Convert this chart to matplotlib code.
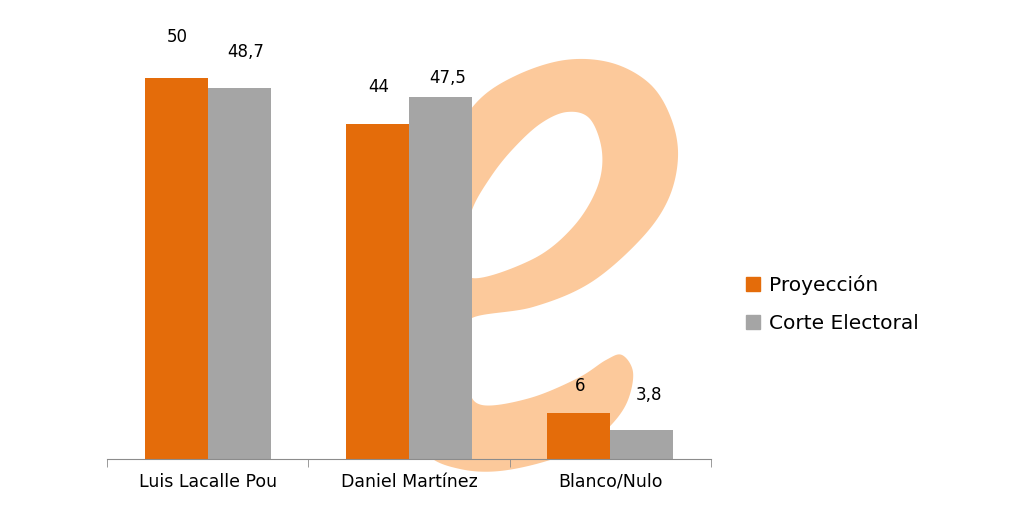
import matplotlib
matplotlib.use("Agg")
import matplotlib.pyplot as plt
from matplotlib.patches import Polygon, Patch
import numpy as np

categories = ["Luis Lacalle Pou", "Daniel Martínez", "Blanco/Nulo"]
proyeccion = [50, 44, 6]
corte = [48.7, 47.5, 3.8]
proy_labels = ["50", "44", "6"]
corte_labels = ["48,7", "47,5", "3,8"]
series_names = ["Proyección", "Corte Electoral"]

ORANGE = "#E46C0A"
GRAY = "#A5A5A5"
PEACH = "#FCC99B"

plt.rcParams["font.family"] = ["DejaVu Sans"]

W, H = 1024, 512
fig = plt.figure(figsize=(W / 100, H / 100), dpi=100)


def smooth_closed(pts, n=20):
    # catmull-rom through outline points, only for the decorative watermark
    p = np.array(pts, dtype=float)
    out = []
    k = len(p)
    for i in range(k):
        p0, p1, p2, p3 = p[i - 1], p[i], p[(i + 1) % k], p[(i + 2) % k]
        for t in np.linspace(0, 1, n, endpoint=False):
            t2, t3 = t * t, t * t * t
            out.append(0.5 * (2 * p1 + (-p0 + p2) * t + (2 * p0 - 5 * p1 + 4 * p2 - p3) * t2
                              + (-p0 + 3 * p1 - 3 * p2 + p3) * t3))
    return np.array(out)


# watermark "e" outline in pixel coordinates behind the chart
outer = [(622, 355), (633, 372), (628, 400), (613, 423), (590, 442), (550, 460), (500, 471),
         (460, 469), (428, 455), (414, 420), (410, 360), (413, 300), (425, 220), (448, 150),
         (476, 103), (515, 76), (565, 60), (612, 63), (650, 84), (671, 118), (678, 157),
         (668, 200), (640, 240), (590, 283), (533, 307), (472, 318), (466, 340),
         (468, 385), (482, 405), (530, 398), (578, 378), (606, 360)]
hole = [(472, 210), (490, 178), (512, 150), (540, 124), (567, 112), (590, 119), (602, 152),
        (597, 188), (573, 227), (533, 259), (472, 278), (466, 245)]

bg = fig.add_axes([0, 0, 1, 1], zorder=0)
bg.set_xlim(0, W)
bg.set_ylim(H, 0)
bg.axis("off")
bg.add_patch(Polygon(smooth_closed(outer), closed=True, facecolor=PEACH, edgecolor="none"))
bg.add_patch(Polygon(smooth_closed(hole), closed=True, facecolor="white", edgecolor="none"))

ax = fig.add_axes([107 / W, (H - 459) / H, (711 - 107) / W, (459 - 20) / H], zorder=1)
ax.patch.set_alpha(0)
x = np.arange(len(categories))
bw = 0.313
ax.bar(x - bw / 2, proyeccion, bw, color=ORANGE)
ax.bar(x + bw / 2, corte, bw, color=GRAY)
ax.set_xlim(-0.5, 2.5)
ax.set_ylim(0, 439 / 7.62)

off1 = [41, 37, 27]
off2 = [36, 19, 35]
for i in range(len(categories)):
    ax.annotate(proy_labels[i], (x[i] - bw / 2, proyeccion[i]), xytext=(1, off1[i] * 0.72),
                textcoords="offset points", ha="center", va="center", fontsize=12)
    ax.annotate(corte_labels[i], (x[i] + bw / 2, corte[i]), xytext=(5, off2[i] * 0.72),
                textcoords="offset points", ha="center", va="center", fontsize=12)

for s in ["top", "right", "left"]:
    ax.spines[s].set_visible(False)
ax.spines["bottom"].set_color("#8C8C8C")
ax.set_yticks([])
ax.set_xticks(x)
ax.set_xticklabels(categories, fontsize=12.5)
ax.tick_params(axis="x", which="major", length=0, pad=10)
ax.set_xticks([-0.5, 0.5, 1.5, 2.5], minor=True)
ax.tick_params(axis="x", which="minor", length=6, color="#8C8C8C")

handles = [Patch(color=ORANGE), Patch(color=GRAY)]
fig.legend(handles, series_names, loc="center left", bbox_to_anchor=(728 / W, 1 - 304 / H),
           frameon=False, fontsize=14.5, handlelength=0.7, handleheight=0.7,
           handletextpad=0.45, labelspacing=0.95)

fig.savefig("out.png", dpi=100)
